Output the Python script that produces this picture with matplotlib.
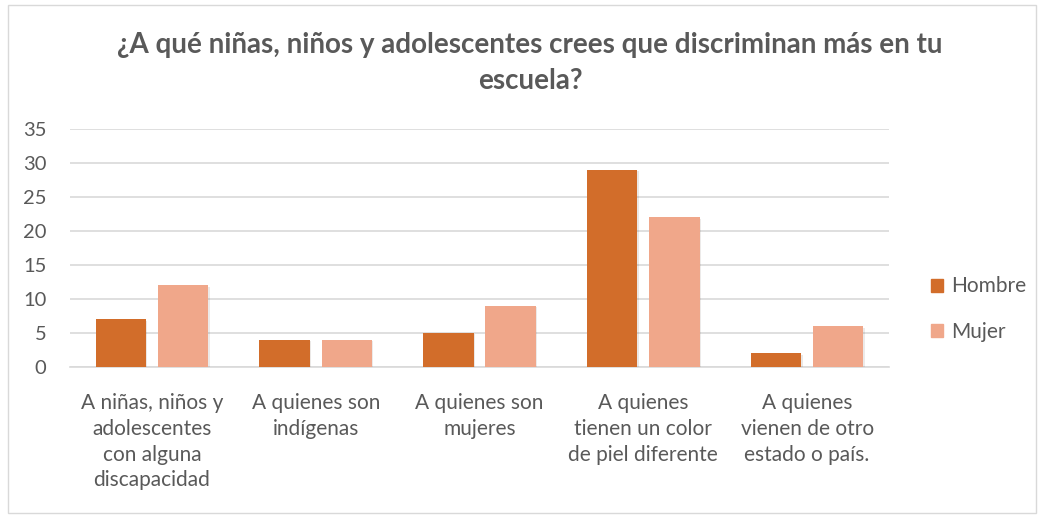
import matplotlib
matplotlib.use("Agg")
import matplotlib.pyplot as plt
import matplotlib.patheffects as pe
import numpy as np
from matplotlib.patches import Rectangle, Patch

categories = ["A niñas, niños y\nadolescentes\ncon alguna\ndiscapacidad",
              "A quienes son\nindígenas",
              "A quienes son\nmujeres",
              "A quienes\ntienen un color\nde piel diferente",
              "A quienes\nvienen de otro\nestado o país."]
hombre = [7, 4, 5, 29, 2]
mujer = [12, 4, 9, 22, 6]
yticks = [0, 5, 10, 15, 20, 25, 30, 35]
title = "¿A qué niñas, niños y adolescentes crees que discriminan más en tu\nescuela?"

c_h = "#D26D2A"
c_m = "#F0A78A"
txt = "#595959"

plt.rcParams['font.family'] = ['Lato', 'DejaVu Sans']

fig = plt.figure(figsize=(10.44, 5.16), dpi=100)
ax = fig.add_axes([70/1044, 1-367/516, (889-70)/1044, (367-129)/516])

x = np.arange(len(categories))
w = 0.308
gap = 0.071
shadow = [pe.SimplePatchShadow(offset=(1.0, -1.0), alpha=0.1), pe.Normal()]
b1 = ax.bar(x - (w+gap)/2, hombre, w, color=c_h, zorder=3)
b2 = ax.bar(x + (w+gap)/2, mujer, w, color=c_m, zorder=3)
for b in list(b1) + list(b2):
    b.set_path_effects(shadow)

ax.set_ylim(0, 35)
ax.set_xlim(-0.5, len(categories)-0.5)
ax.set_yticks(yticks)
ax.yaxis.grid(True, color="#D9D9D9", linewidth=1.2, zorder=0)
ax.set_axisbelow(True)
for s in ["top", "right", "left"]:
    ax.spines[s].set_visible(False)
ax.spines["bottom"].set_color("#D9D9D9")
ax.spines["bottom"].set_linewidth(1.2)
ax.tick_params(axis="both", length=0, colors=txt, labelsize=15)
ax.tick_params(axis="y", pad=17, labelsize=14.5)
ax.tick_params(axis="x", pad=19)
ax.set_xticks(x)
ax.set_xticklabels(categories, linespacing=1.35)

fig.text(530/1044, 1-63/516, title, ha="center", va="center", fontsize=20,
         fontweight="bold", color=txt, linespacing=1.45)

handles = [Patch(color=c_h), Patch(color=c_m)]
fig.legend(handles, ["Hombre", "Mujer"], loc="center left",
           bbox_to_anchor=(912/1044, 1-309/516), frameon=False,
           fontsize=15, labelcolor=txt, handlelength=0.6, handleheight=0.6,
           handletextpad=0.4, labelspacing=1.2)

fig.patches.append(Rectangle((8/1044, 3/516), 1028/1044, 508/516, fill=False,
                             edgecolor="#D9D9D9", linewidth=1,
                             transform=fig.transFigure, figure=fig))

fig.savefig("out.png", dpi=100, facecolor="white")
